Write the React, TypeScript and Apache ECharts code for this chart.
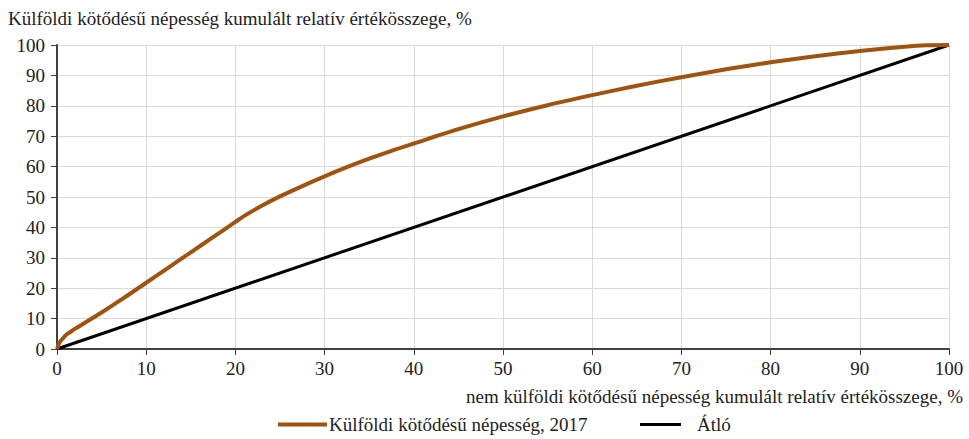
import React, { useEffect, useRef } from "react";
import * as echarts from "echarts";

const yAxisTitle = "Külföldi kötődésű népesség kumulált relatív értékösszege, %";
const xAxisTitle = "nem külföldi kötődésű népesség kumulált relatív értékösszege, %";
const seriesNames = ["Külföldi kötődésű népesség, 2017", "Átló"];

const curveX = [0, 0.3, 0.7, 1, 1.5, 2, 3, 5, 7.5, 10, 12.5, 15, 17.5, 20, 21, 23, 25, 27.5, 30, 32.5, 35, 37.5, 40, 45, 50, 55, 60, 65, 70, 75, 80, 85, 90, 95, 97.5, 100];
const curveY = [0, 2.2, 3.6, 4.6, 5.6, 6.6, 8.4, 12, 16.8, 21.8, 26.8, 31.8, 36.8, 41.8, 43.8, 47.2, 50.2, 53.6, 56.8, 59.8, 62.6, 65.2, 67.6, 72.3, 76.5, 80.2, 83.5, 86.6, 89.4, 92, 94.3, 96.3, 98, 99.4, 99.9, 100];
const diagX = [0, 100];
const diagY = [0, 100];

const FONT = "Liberation Serif";
const FS = 19;

export default function App() {
  const ref = useRef<HTMLDivElement>(null);
  useEffect(() => {
    if (!ref.current) return;
    const chart = echarts.init(ref.current, null, { renderer: "svg" });
    chart.setOption({
      animation: false,
      textStyle: { fontFamily: FONT, color: "#222" },
      grid: { left: 57, right: 20, top: 45, bottom: 90, containLabel: false },
      title: {
        text: yAxisTitle,
        left: 3,
        top: 4,
        textStyle: { fontFamily: FONT, fontSize: FS, fontWeight: "normal", color: "#222" },
      },
      graphic: [
        {
          type: "text",
          right: 6,
          top: 387,
          style: { text: xAxisTitle, fontFamily: FONT, fontSize: FS, fill: "#222" },
        },
      ],
      legend: [
        {
          data: [{ name: seriesNames[0], icon: "rect" }],
          left: 278,
          top: 415,
          padding: 0,
          itemWidth: 49,
          itemHeight: 4,
          textStyle: { fontFamily: FONT, fontSize: FS, color: "#222", padding: [0, 0, 0, -3] },
        },
        {
          data: [{ name: seriesNames[1], icon: "rect" }],
          left: 640,
          top: 415,
          padding: 0,
          itemWidth: 41,
          itemHeight: 3,
          textStyle: { fontFamily: FONT, fontSize: FS, color: "#222", padding: [0, 0, 0, 11] },
        },
      ],
      xAxis: {
        type: "value",
        min: 0,
        max: 100,
        interval: 10,
        axisLine: { show: true, lineStyle: { color: "#404040", width: 2 } },
        axisTick: { show: true, length: 6, lineStyle: { color: "#404040" } },
        axisLabel: { fontFamily: FONT, fontSize: FS, color: "#222", margin: 10 },
        splitLine: { show: true, lineStyle: { color: "#d9d9d9", width: 1 } },
      },
      yAxis: {
        type: "value",
        min: 0,
        max: 100,
        interval: 10,
        axisLine: { show: true, lineStyle: { color: "#404040", width: 2 } },
        axisTick: { show: true, length: 6, lineStyle: { color: "#404040" } },
        axisLabel: { fontFamily: FONT, fontSize: FS, color: "#222", margin: 12 },
        splitLine: { show: true, lineStyle: { color: "#d9d9d9", width: 1 } },
      },
      series: [
        {
          name: seriesNames[0],
          type: "line",
          data: curveX.map((x, i) => [x, curveY[i]]),
          showSymbol: false,
          smooth: 0.3,
          lineStyle: { color: "#a0520f", width: 4 },
          itemStyle: { color: "#a0520f" },
          z: 3,
        },
        {
          name: seriesNames[1],
          type: "line",
          data: diagX.map((x, i) => [x, diagY[i]]),
          showSymbol: false,
          lineStyle: { color: "#000", width: 3 },
          itemStyle: { color: "#000" },
          z: 2,
        },
      ],
    });
    return () => chart.dispose();
  }, []);
  return (
    <div
      ref={ref}
      style={{ position: "fixed", left: 0, top: 0, width: 969, height: 439, background: "#fff" }}
    />
  );
}
